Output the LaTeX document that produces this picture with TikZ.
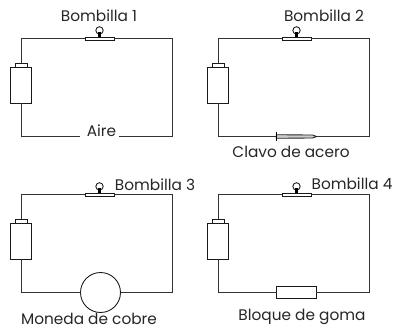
\documentclass[tikz,border=0pt]{standalone}
\usepackage{fontspec}
\setmainfont{Poppins}
\begin{document}
\begin{tikzpicture}[x=0.75pt,y=-0.75pt,
  wire/.style={draw=black!80,line width=0.65pt},
  part/.style={draw=black!90,fill=white,line width=0.65pt,inner sep=0pt,outer sep=0pt,minimum size=0pt,rectangle},
  lbl/.style={font=\fontsize{11.5pt}{13pt}\selectfont,text=black!85,inner sep=0pt}]
\useasboundingbox (0,0) rectangle (395,329);
% common parts of the four circuits
\foreach \i/\dx/\dy in {1/0/0,2/197/0,3/0/156,4/197/156}{
  \begin{scope}[shift={(\dx,\dy)}]
    \node[part,minimum width=20.5*0.75pt,minimum height=36*0.75pt] (bat\i) at (21,85) {};
    \node[part,minimum width=12*0.75pt,minimum height=4*0.75pt] (cap\i) at (21,65) {};
    \node[part,circle,minimum size=7.4*0.75pt] (bulb\i) at (99.5,30.4) {};
    \node[fill=black,inner sep=0pt,minimum width=3.8*0.75pt,minimum height=6*0.75pt] (base\i) at (99.5,34.5) {};
    \node[part,minimum width=29*0.75pt,minimum height=3.5*0.75pt] (sock\i) at (99.5,38.7) {};
    \coordinate (br\i) at (172.5,136.5);
  \end{scope}
}
% bottom elements
\node[lbl,minimum width=39*0.75pt] (el1) at (99.5,136.5) {};
\node[lbl] (aire) at (101.5,131) {Aire};
\node[inner sep=0pt,minimum width=40*0.75pt,minimum height=3*0.75pt] (el2) at (296.5,136.5) {};
\draw[black!85,line width=0.65pt,fill=black!20] (el2.north west) -- (312.5,135) -- (el2.east) -- (312.5,138) -- (el2.south west) -- cycle;
\draw[black,line width=1pt] (276.7,132) -- (276.7,141);
\node[part,circle,minimum size=40*0.75pt] (el3) at (100.5,292.5) {};
\node[part,minimum width=39.5*0.75pt,minimum height=12.5*0.75pt] (el4) at (296.3,292.5) {};
% wires
\foreach \i in {1,2,3,4}{
  \draw[wire] (cap\i.north) |- (sock\i.west);
  \draw[wire] (sock\i.east) -| (br\i) -- (el\i.east);
  \draw[wire] (bat\i.south) |- (el\i.west);
}
% labels
\node[lbl] (t1) at (99,16) {Bombilla 1};
\node[lbl] (t2) at (324,15.5) {Bombilla 2};
\node[lbl] (t3) at (155,185) {Bombilla 3};
\node[lbl] (t4) at (352,184) {Bombilla 4};
\node[lbl] (t5) at (291,152) {Clavo de acero};
\node[lbl] (t6) at (89,318.5) {Moneda de cobre};
\node[lbl] (t7) at (302,317) {Bloque de goma};
\end{tikzpicture}
\end{document}
